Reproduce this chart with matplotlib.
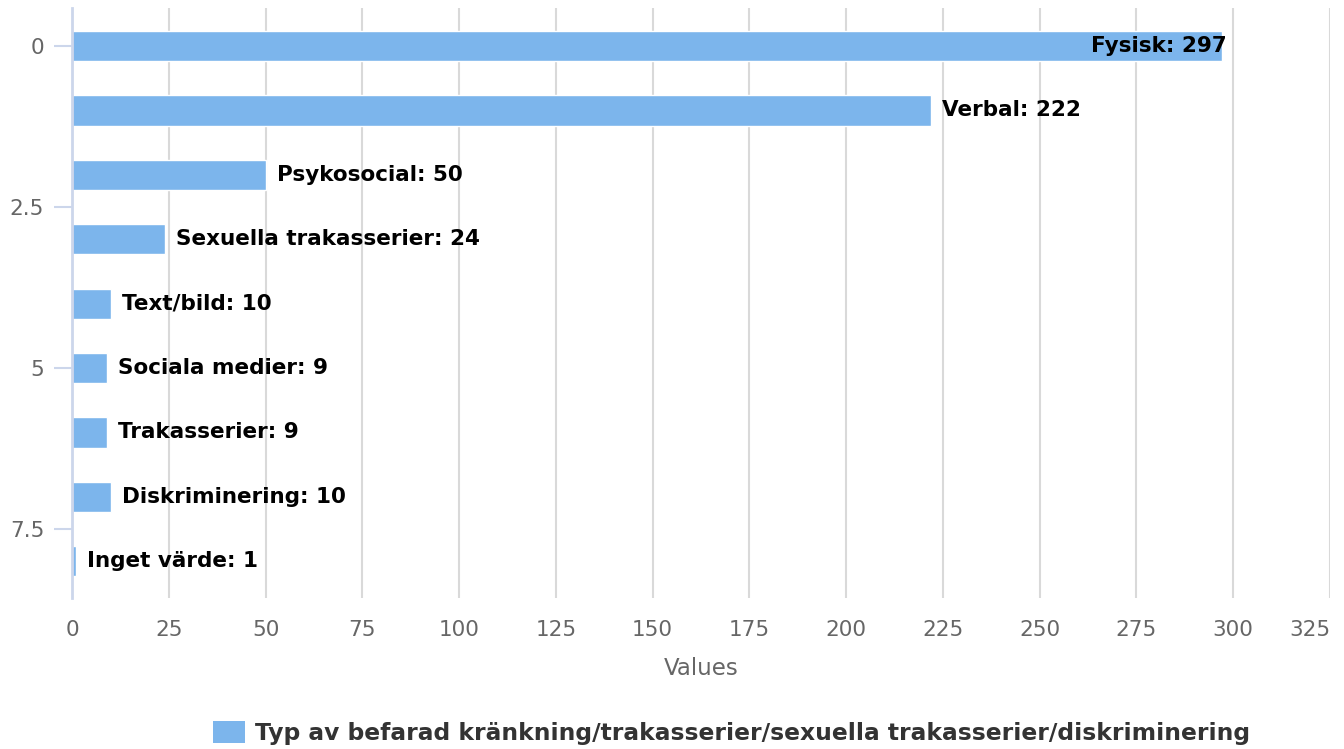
import matplotlib
matplotlib.use("Agg")
import matplotlib.pyplot as plt
from matplotlib.patches import Patch

# data
categories = ["Fysisk", "Verbal", "Psykosocial", "Sexuella trakasserier", "Text/bild",
              "Sociala medier", "Trakasserier", "Diskriminering", "Inget värde"]
values = [297, 222, 50, 24, 10, 9, 9, 10, 1]
x_ticks = list(range(0, 326, 25))
y_ticks = [0, 2.5, 5, 7.5]
series_name = "Typ av befarad kränkning/trakasserier/sexuella trakasserier/diskriminering"

bar_color = "#7cb5ec"
grid_color = "#d9d9d9"
axis_color = "#ccd6eb"
label_color = "#666666"

plt.rcParams['font.family'] = ['DejaVu Sans']

fig = plt.figure(figsize=(13.44, 7.49), dpi=100)
ax = fig.add_axes([72 / 1344, 1 - 598 / 749, (1330 - 72) / 1344, (598 - 8) / 749])

pos = list(range(len(values)))
ax.barh(pos, values, height=0.47, color=bar_color, edgecolor="white", linewidth=1, zorder=3)

ax.set_xlim(0, 325)
ax.set_ylim(8.57, -0.59)

# data labels
for i, (c, v) in enumerate(zip(categories, values)):
    txt = f"{c}: {v}"
    if v > 280:
        # no room outside, put inside the bar end
        ax.annotate(txt, (v, i), xytext=(4, 0), textcoords="offset points",
                    ha="right", va="center", fontsize=15.5, fontweight="bold",
                    color="black", zorder=4)
    else:
        ax.annotate(txt, (v, i), xytext=(8, 0), textcoords="offset points",
                    ha="left", va="center", fontsize=15.5, fontweight="bold",
                    color="black", zorder=4)

ax.set_xticks(x_ticks)
ax.set_xticklabels([str(t) for t in x_ticks])
ax.get_xticklabels()[-1].set_horizontalalignment("right")
ax.set_yticks(y_ticks)
ax.set_yticklabels(["0", "2.5", "5", "7.5"])
ax.tick_params(axis="x", length=0, pad=16, labelsize=15.5, labelcolor=label_color)
ax.tick_params(axis="y", length=13, width=1.5, color=axis_color, pad=7,
               labelsize=15.5, labelcolor=label_color)

ax.grid(axis="x", color=grid_color, linewidth=1.5, zorder=0)
ax.set_axisbelow(True)
for s in ["top", "right", "bottom"]:
    ax.spines[s].set_visible(False)
ax.spines["left"].set_color(axis_color)
ax.spines["left"].set_linewidth(2)
ax.spines["left"].set_zorder(5)

ax.set_xlabel("Values", fontsize=16.5, color=label_color, labelpad=12)

handle = Patch(facecolor=bar_color, edgecolor="none")
fig.legend([handle], [series_name], loc="center",
           bbox_to_anchor=(732 / 1344, 1 - 733 / 749), frameon=False,
           prop={"size": 16.8, "weight": "bold"}, labelcolor="#333333",
           handlelength=1.35, handleheight=1.05, handletextpad=0.45)

fig.savefig("out.png", dpi=100)
